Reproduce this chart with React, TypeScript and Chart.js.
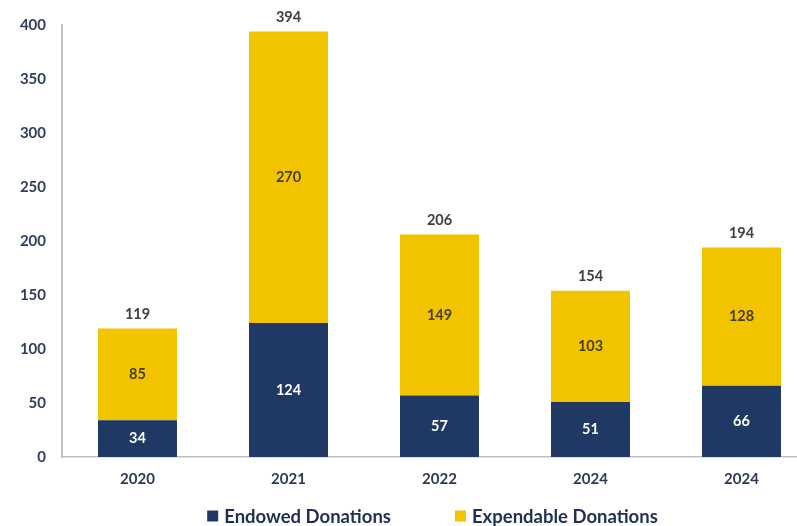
import React, { useEffect, useRef } from "react";
import { Chart, registerables } from "chart.js";

Chart.register(...registerables);

const categories = ["2020", "2021", "2022", "2024", "2024"];
const endowed = [34, 124, 57, 51, 66];
const expendable = [85, 270, 149, 103, 128];
const yTicks = [0, 50, 100, 150, 200, 250, 300, 350, 400];

const NAVY = "#1f3864";
const YELLOW = "#f2c400";
const FONT = 'Lato, "Open Sans", sans-serif';
const CANVAS_W = 865;
const CANVAS_H = 526;

const valueLabels = {
  id: "valueLabels",
  afterDatasetsDraw(chart: any) {
    const ctx = chart.ctx;
    ctx.save();
    ctx.textAlign = "center";
    ctx.textBaseline = "middle";
    ctx.font = `bold 14.5px ${FONT}`;
    const colors = ["#ffffff", "#4a3f12"];
    chart.data.datasets.forEach((ds: any, di: number) => {
      const meta = chart.getDatasetMeta(di);
      meta.data.forEach((bar: any, i: number) => {
        ctx.fillStyle = colors[di];
        ctx.fillText(String(ds.data[i]), bar.x, (bar.y + bar.base) / 2);
      });
    });
    const lastMeta = chart.getDatasetMeta(chart.data.datasets.length - 1);
    ctx.fillStyle = "#404040";
    lastMeta.data.forEach((bar: any, i: number) => {
      const total = chart.data.datasets.reduce((s: number, d: any) => s + d.data[i], 0);
      ctx.fillText(String(total), bar.x, bar.y - 14);
    });
    ctx.restore();
  },
};

const customLegend = {
  id: "customLegend",
  afterDraw(chart: any) {
    const ctx = chart.ctx;
    const ds = chart.data.datasets;
    const BOX = 11;
    const GAP = 6;
    const SPACING = 64;
    ctx.save();
    ctx.font = `bold 18.5px ${FONT}`;
    ctx.textBaseline = "middle";
    ctx.textAlign = "left";
    const widths = ds.map((d: any) => BOX + GAP + ctx.measureText(d.label).width);
    const total = widths.reduce((a: number, b: number) => a + b, 0) + SPACING * (ds.length - 1);
    let x = chart.width / 2 - total / 2;
    const y = chart.height - 10;
    ds.forEach((d: any, i: number) => {
      ctx.fillStyle = d.backgroundColor;
      ctx.fillRect(x, y - BOX / 2, BOX, BOX);
      ctx.fillStyle = "#1f2f55";
      ctx.fillText(d.label, x + BOX + GAP, y + 1);
      x += widths[i] + SPACING;
    });
    ctx.restore();
  },
};

export default function App() {
  const ref = useRef<HTMLCanvasElement | null>(null);
  useEffect(() => {
    if (!ref.current) return;
    const chart = new Chart(ref.current, {
      type: "bar",
      data: {
        labels: categories,
        datasets: [
          { label: "Endowed Donations", data: endowed, backgroundColor: NAVY },
          { label: "Expendable Donations", data: expendable, backgroundColor: YELLOW },
        ],
      },
      options: {
        responsive: false,
        animation: false,
        devicePixelRatio: 1,
        layout: { padding: { top: 25, right: CANVAS_W - 817, bottom: 37, left: 0 } },
        datasets: { bar: { categoryPercentage: 1, barPercentage: 0.523 } } as any,
        plugins: {
          legend: { display: false },
          tooltip: { enabled: false },
        },
        scales: {
          x: {
            stacked: true,
            grid: { display: false, drawTicks: false },
            border: { display: true, color: "#bfbfbf", width: 1.5 },
            ticks: { color: "#2e3a55", font: { family: FONT, size: 15, weight: "bold" }, padding: 13 },
            afterFit: (s: any) => { s.height = 32; },
          },
          y: {
            stacked: true,
            min: 0,
            max: 400,
            grid: { display: false, drawTicks: false },
            border: { display: true, color: "#bfbfbf", width: 2 },
            afterBuildTicks: (s: any) => { s.ticks = yTicks.map((v) => ({ value: v })); },
            ticks: { color: "#2f3d5f", font: { family: FONT, size: 15, weight: "bold" }, padding: 16 },
            afterFit: (s: any) => { s.width = 62; },
          },
        },
      },
      plugins: [valueLabels, customLegend],
    });
    return () => chart.destroy();
  }, []);
  return (
    <div style={{ position: "absolute", top: 0, left: 0, width: 797, height: 526, overflow: "hidden", background: "#fff" }}>
      <canvas ref={ref} width={CANVAS_W} height={CANVAS_H} style={{ display: "block" }} />
    </div>
  );
}
